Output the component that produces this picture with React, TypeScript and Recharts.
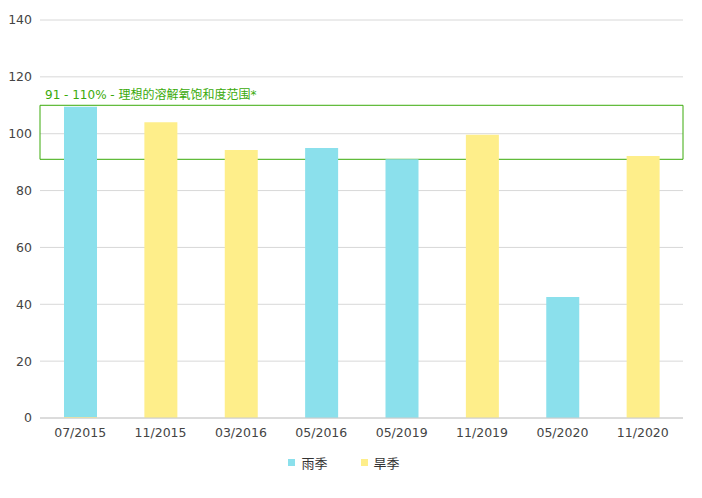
import React from 'react';
import { BarChart, Bar, XAxis, YAxis, CartesianGrid, Legend, ReferenceArea } from 'recharts';

const DATES = ['07/2015', '11/2015', '03/2016', '05/2016', '05/2019', '11/2019', '05/2020', '11/2020'];
const RAINY = [109.15, null, null, 95, 91, null, 42.6, null];
const DRY = [0.35, 104, 94.3, null, null, 99.6, null, 92.2];
const Y_TICKS = [0, 20, 40, 60, 80, 100, 120, 140];
const RANGE_LOW = 91;
const RANGE_HIGH = 110;
const RANGE_LABEL = '91 - 110% - 理想的溶解氧饱和度范围*';

const data = DATES.map((d, i) => ({ date: d, rainy: RAINY[i], dry: DRY[i] }));

const FONT = '"DejaVu Sans", "Noto Sans CJK SC", sans-serif';
const CYAN = '#8be0ec';
const YELLOW = '#feee8a';
const GREEN = '#3aaa0a';

function LegendContent() {
  const items = [
    { name: '雨季', color: CYAN },
    { name: '旱季', color: YELLOW },
  ];
  return (
    <div style={{ display: 'flex', justifyContent: 'center', gap: 33, fontFamily: FONT, fontSize: 13, color: '#333', paddingRight: 14 }}>
      {items.map((it) => (
        <div key={it.name} style={{ display: 'flex', alignItems: 'center' }}>
          <span style={{ display: 'inline-block', width: 7, height: 7, background: it.color, marginRight: 6 }} />
          <span>{it.name}</span>
        </div>
      ))}
    </div>
  );
}

function RangeLabel(props: any) {
  const { viewBox } = props;
  return (
    <text x={viewBox.x + 5} y={viewBox.y - 6} fill={GREEN} fontSize={12} fontFamily={FONT}>
      {RANGE_LABEL}
    </text>
  );
}

export default function App() {
  return (
    <div style={{ position: 'absolute', left: 0, top: 0, width: 702, height: 498, background: '#fff' }}>
      <BarChart width={702} height={498} data={data} margin={{ top: 20, right: 19, left: 0, bottom: 50 }}
        barSize={33}>
        <CartesianGrid vertical={false} stroke="#d8d8d8" />
        <XAxis dataKey="date" tickLine={false} axisLine={{ stroke: '#cccccc' }} height={30}
          tick={{ fill: '#444', fontSize: 12.5, fontFamily: FONT }} tickMargin={4} />
        <YAxis domain={[0, 140]} ticks={Y_TICKS} width={40} tickLine={false} axisLine={false}
          tick={{ fill: '#444', fontSize: 12.5, fontFamily: FONT }} />
        <ReferenceArea y1={RANGE_LOW} y2={RANGE_HIGH} fill="none" fillOpacity={0} stroke={GREEN} strokeWidth={1}
          ifOverflow="visible" label={<RangeLabel />} />
        <Bar dataKey="dry" name="旱季" stackId="s" fill={YELLOW} isAnimationActive={false} />
        <Bar dataKey="rainy" name="雨季" stackId="s" fill={CYAN} isAnimationActive={false} />
        <Legend verticalAlign="middle" content={<LegendContent />}
          wrapperStyle={{ top: 453, left: 0, width: 702 }} />
      </BarChart>
    </div>
  );
}
